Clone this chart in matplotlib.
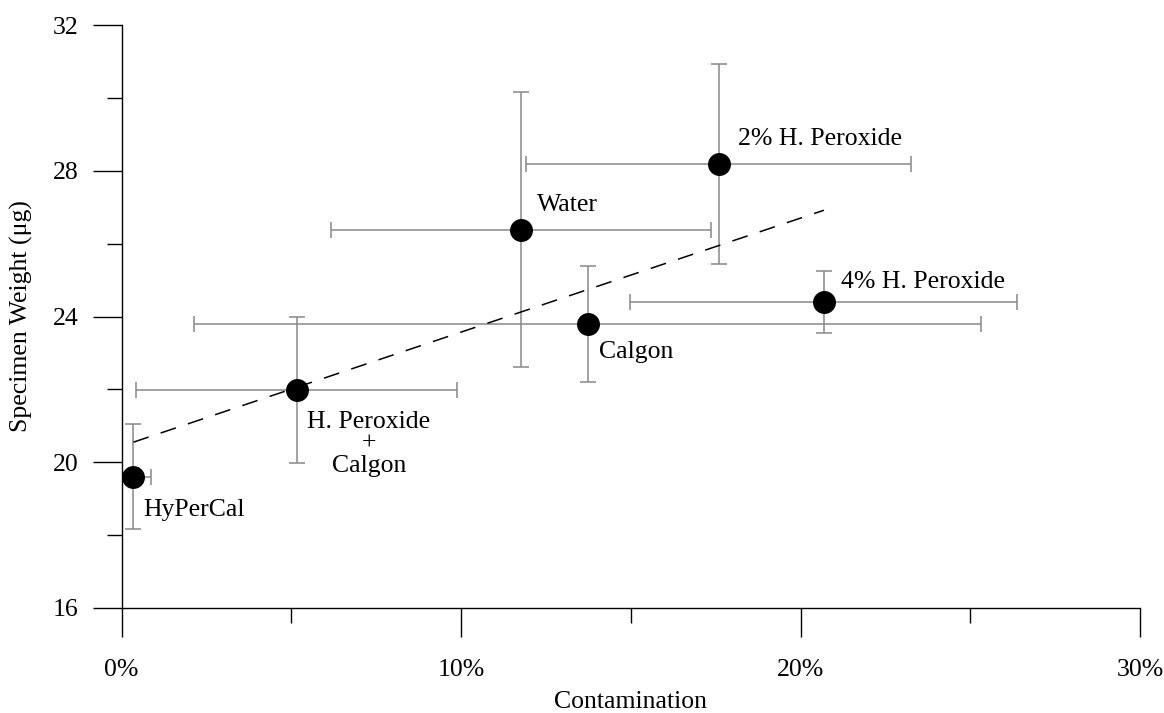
import numpy as np
import matplotlib.pyplot as plt
from matplotlib.ticker import MultipleLocator, FuncFormatter

# treatments: contamination (%) vs specimen weight (ug)
labels = ['HyPerCal', 'H. Peroxide\n+\nCalgon', 'Water', 'Calgon',
          '2% H. Peroxide', '4% H. Peroxide']
contamination = [0.35, 5.16, 11.76, 13.73, 17.59, 20.69]
contamination_err = [0.51, 4.72, 5.60, 11.60, 5.67, 5.70]
weight = [19.60, 21.98, 26.38, 23.79, 28.19, 24.39]
weight_err = [1.44, 2.00, 3.77, 1.60, 2.75, 0.85]

# label offsets in pixels (dx right, dy down to last baseline) from each point
label_dx = [9.4, 72.0, 16.6, 11.6, 19.0, 17.0]
label_dy = [39.0, 81.7, -18.3, 34.3, -19.0, -14.6]

plt.rcParams['font.family'] = ['Liberation Serif', 'DejaVu Serif']
plt.rcParams['font.size'] = 18.5

fig = plt.figure(figsize=(11.64, 7.13), dpi=100)
ax = fig.add_axes([0.1044, 0.1473, 0.8750, 0.8176])

ax.errorbar(contamination, weight, xerr=contamination_err, yerr=weight_err,
            fmt='none', ecolor='#888888', elinewidth=1.1, capsize=5.5,
            capthick=1.1, zorder=2)

# least squares trend across the treatments
k, b = np.polyfit(contamination, weight, 1)
xs = np.array([min(contamination), max(contamination)])
ax.plot(xs, k * xs + b, color='black', lw=1.1, dashes=(10.5, 8.3), zorder=3)

ax.plot(contamination, weight, 'o', color='black', ms=15.5, zorder=4)

for i, lab in enumerate(labels):
    ha = 'center' if '\n' in lab else 'left'
    ax.annotate(lab, (contamination[i], weight[i]),
                xytext=(label_dx[i] * 0.72, -label_dy[i] * 0.72),
                textcoords='offset points', ha=ha, va='baseline',
                multialignment='center', linespacing=1.0, zorder=5)

ax.set_xlim(0, 30)
ax.set_ylim(16, 32)
ax.xaxis.set_major_locator(MultipleLocator(10))
ax.xaxis.set_minor_locator(MultipleLocator(5))
ax.yaxis.set_major_locator(MultipleLocator(4))
ax.yaxis.set_minor_locator(MultipleLocator(2))
ax.xaxis.set_major_formatter(FuncFormatter(lambda v, p: '%d%%' % v))

for side in ['top', 'right']:
    ax.spines[side].set_visible(False)
for side in ['left', 'bottom']:
    ax.spines[side].set_linewidth(1.0)

ax.tick_params(which='major', length=20.9, width=1.0, direction='out')
ax.tick_params(which='minor', length=10.8, width=1.0, direction='out')
ax.tick_params(axis='x', which='major', pad=16)
ax.tick_params(axis='y', which='major', pad=10)

ax.set_xlabel('Contamination', labelpad=7)
ax.set_ylabel('Specimen Weight (μg)', labelpad=14)

fig.savefig('out.png', dpi=100)
